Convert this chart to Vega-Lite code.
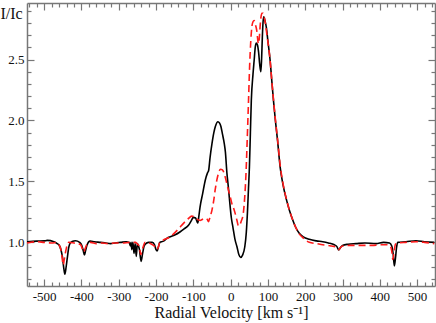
{
  "$schema": "https://vega.github.io/schema/vega-lite/v6.json",
  "width": 408,
  "height": 283,
  "autosize": "none",
  "padding": {"left": 27, "top": 3, "right": 1, "bottom": 37},
  "background": "white",
  "config": {
    "view": {"stroke": null},
    "font": "Liberation Serif",
    "axis": {"labelFont": "Liberation Serif", "titleFont": "Liberation Serif", "labelFontSize": 13, "labelColor": "#111111", "grid": false, "domainColor": "#777777", "domainWidth": 1.5, "tickColor": "#777777", "tickWidth": 1.2}
  },
  "datasets": {
    "obs": [
      {"v":-546,"I":1.005},{"v":-520,"I":1.01},{"v":-500,"I":1.012},{"v":-492,"I":1.016},{"v":-474,"I":1.005},{"v":-465,"I":0.99},{"v":-460,"I":0.978},{"v":-455,"I":0.94},{"v":-451,"I":0.88},{"v":-447,"I":0.78},{"v":-444.5,"I":0.738},{"v":-441,"I":0.8},{"v":-438,"I":0.87},{"v":-434,"I":0.96},{"v":-431,"I":0.99},{"v":-425,"I":1.008},{"v":-416,"I":1.013},{"v":-405,"I":1.0},{"v":-399,"I":0.975},{"v":-395,"I":0.93},{"v":-392,"I":0.896},{"v":-389,"I":0.93},{"v":-385,"I":0.978},{"v":-377,"I":1.01},{"v":-365,"I":1.005},{"v":-349,"I":1.0},{"v":-335,"I":0.995},{"v":-322,"I":0.99},{"v":-310,"I":0.995},{"v":-295,"I":1.0},{"v":-280,"I":1.005},{"v":-272,"I":1.0},{"v":-269,"I":0.97},{"v":-267,"I":1.0},{"v":-265,"I":0.94},{"v":-262,"I":1.0},{"v":-259,"I":0.91},{"v":-256,"I":0.99},{"v":-253,"I":0.885},{"v":-250,"I":0.99},{"v":-247,"I":0.97},{"v":-244.5,"I":0.94},{"v":-240,"I":0.844},{"v":-236,"I":0.91},{"v":-232,"I":0.97},{"v":-229,"I":0.985},{"v":-220,"I":1.0},{"v":-210,"I":1.0},{"v":-204,"I":0.98},{"v":-200,"I":0.94},{"v":-197,"I":0.93},{"v":-193,"I":0.97},{"v":-190,"I":1.0},{"v":-180,"I":1.01},{"v":-170,"I":1.035},{"v":-162,"I":1.046},{"v":-150,"I":1.06},{"v":-135,"I":1.087},{"v":-125,"I":1.11},{"v":-113,"I":1.14},{"v":-105,"I":1.18},{"v":-100,"I":1.205},{"v":-94,"I":1.2},{"v":-90,"I":1.17},{"v":-88,"I":1.16},{"v":-85,"I":1.22},{"v":-82,"I":1.29},{"v":-75,"I":1.4},{"v":-68,"I":1.51},{"v":-62,"I":1.57},{"v":-59,"I":1.59},{"v":-55,"I":1.7},{"v":-50,"I":1.81},{"v":-45,"I":1.9},{"v":-41,"I":1.95},{"v":-34,"I":1.99},{"v":-30,"I":1.98},{"v":-26,"I":1.95},{"v":-22,"I":1.89},{"v":-17,"I":1.81},{"v":-14,"I":1.74},{"v":-10,"I":1.57},{"v":-6,"I":1.45},{"v":-3,"I":1.35},{"v":2,"I":1.2},{"v":6,"I":1.128},{"v":12,"I":1.02},{"v":17,"I":0.964},{"v":22,"I":0.9},{"v":27,"I":0.877},{"v":32,"I":0.895},{"v":38,"I":0.964},{"v":42,"I":1.08},{"v":45,"I":1.24},{"v":48,"I":1.45},{"v":50.4,"I":1.62},{"v":53,"I":1.9},{"v":55.5,"I":2.166},{"v":60,"I":2.38},{"v":63,"I":2.49},{"v":66,"I":2.6},{"v":69,"I":2.636},{"v":72,"I":2.62},{"v":75,"I":2.56},{"v":78,"I":2.46},{"v":81,"I":2.4},{"v":83,"I":2.5},{"v":85,"I":2.68},{"v":87,"I":2.81},{"v":89,"I":2.85},{"v":92,"I":2.82},{"v":96,"I":2.76},{"v":100,"I":2.65},{"v":106,"I":2.49},{"v":110,"I":2.34},{"v":114.8,"I":2.166},{"v":120,"I":2.0},{"v":126,"I":1.83},{"v":132.7,"I":1.62},{"v":140,"I":1.48},{"v":150,"I":1.347},{"v":158,"I":1.26},{"v":167,"I":1.18},{"v":175,"I":1.12},{"v":184,"I":1.074},{"v":195,"I":1.045},{"v":211,"I":1.025},{"v":230,"I":1.012},{"v":247,"I":1.005},{"v":262,"I":0.995},{"v":278,"I":0.98},{"v":285,"I":0.965},{"v":290,"I":0.937},{"v":295,"I":0.96},{"v":300,"I":0.975},{"v":315,"I":0.985},{"v":336,"I":0.99},{"v":360,"I":0.995},{"v":390,"I":0.99},{"v":410,"I":1.0},{"v":426,"I":0.995},{"v":432,"I":0.97},{"v":436,"I":0.9},{"v":439,"I":0.806},{"v":442,"I":0.87},{"v":445,"I":0.96},{"v":448,"I":1.0},{"v":470,"I":1.005},{"v":497,"I":1.013},{"v":520,"I":1.005},{"v":546,"I":1.0}
    ],
    "model": [
      {"v":-546,"I":0.995},{"v":-520,"I":1.005},{"v":-500,"I":1.0},{"v":-480,"I":0.995},{"v":-465,"I":1.0},{"v":-460,"I":0.98},{"v":-456,"I":0.95},{"v":-452,"I":0.88},{"v":-449,"I":0.814},{"v":-446,"I":0.86},{"v":-442,"I":0.93},{"v":-438,"I":0.98},{"v":-434,"I":1.0},{"v":-420,"I":0.995},{"v":-410,"I":0.99},{"v":-402,"I":0.98},{"v":-398,"I":0.95},{"v":-394,"I":0.92},{"v":-390,"I":0.95},{"v":-385,"I":0.985},{"v":-375,"I":1.0},{"v":-360,"I":0.99},{"v":-345,"I":0.995},{"v":-330,"I":0.99},{"v":-310,"I":0.995},{"v":-290,"I":0.995},{"v":-270,"I":1.0},{"v":-255,"I":1.0},{"v":-248,"I":0.98},{"v":-245,"I":0.97},{"v":-241,"I":0.9},{"v":-238,"I":0.93},{"v":-235,"I":0.96},{"v":-229,"I":1.0},{"v":-215,"I":0.99},{"v":-205,"I":0.97},{"v":-198,"I":0.94},{"v":-194,"I":0.96},{"v":-190,"I":1.0},{"v":-180,"I":1.02},{"v":-165,"I":1.04},{"v":-153,"I":1.07},{"v":-140,"I":1.11},{"v":-126.5,"I":1.156},{"v":-115,"I":1.19},{"v":-104,"I":1.215},{"v":-97,"I":1.21},{"v":-90,"I":1.19},{"v":-82,"I":1.18},{"v":-75,"I":1.19},{"v":-68,"I":1.197},{"v":-62,"I":1.185},{"v":-59.5,"I":1.17},{"v":-55,"I":1.21},{"v":-50,"I":1.265},{"v":-45,"I":1.35},{"v":-41.5,"I":1.43},{"v":-37,"I":1.51},{"v":-32.7,"I":1.566},{"v":-27,"I":1.6},{"v":-22,"I":1.595},{"v":-14.7,"I":1.538},{"v":-10,"I":1.48},{"v":-5.9,"I":1.43},{"v":0,"I":1.36},{"v":3.2,"I":1.32},{"v":8,"I":1.28},{"v":12,"I":1.24},{"v":17,"I":1.18},{"v":21,"I":1.135},{"v":24,"I":1.14},{"v":28,"I":1.17},{"v":34,"I":1.24},{"v":38,"I":1.38},{"v":41,"I":1.55},{"v":44,"I":1.8},{"v":48,"I":2.166},{"v":51,"I":2.45},{"v":54,"I":2.65},{"v":57,"I":2.77},{"v":60,"I":2.81},{"v":63,"I":2.82},{"v":66,"I":2.79},{"v":70,"I":2.74},{"v":74.5,"I":2.63},{"v":77,"I":2.68},{"v":79,"I":2.77},{"v":81,"I":2.84},{"v":84,"I":2.88},{"v":87,"I":2.88},{"v":90,"I":2.85},{"v":94,"I":2.78},{"v":97,"I":2.71},{"v":102,"I":2.6},{"v":106,"I":2.49},{"v":110,"I":2.34},{"v":115,"I":2.17},{"v":120,"I":2.01},{"v":126,"I":1.84},{"v":133,"I":1.63},{"v":140,"I":1.49},{"v":150,"I":1.35},{"v":158,"I":1.26},{"v":167,"I":1.18},{"v":175,"I":1.12},{"v":184,"I":1.07},{"v":195,"I":1.035},{"v":211,"I":1.0},{"v":230,"I":0.99},{"v":247,"I":0.98},{"v":262,"I":0.975},{"v":270,"I":0.97},{"v":280,"I":0.965},{"v":286,"I":0.955},{"v":290,"I":0.94},{"v":294,"I":0.955},{"v":300,"I":0.97},{"v":320,"I":0.975},{"v":350,"I":0.975},{"v":380,"I":0.975},{"v":400,"I":0.98},{"v":420,"I":0.98},{"v":428,"I":0.97},{"v":432,"I":0.93},{"v":435,"I":0.86},{"v":438,"I":0.92},{"v":442,"I":0.985},{"v":448,"I":0.995},{"v":470,"I":1.0},{"v":497,"I":1.005},{"v":520,"I":1.0},{"v":546,"I":0.99}
    ]
  },
  "layer": [
    {
      "data": {"name": "obs"},
      "mark": {"type": "line", "color": "#000000", "strokeWidth": 1.6, "interpolate": "monotone"},
      "encoding": {
        "x": {
          "field": "v", "type": "quantitative",
          "scale": {"domain": [-546, 548], "nice": false, "zero": false},
          "axis": {
            "orient": "bottom",
            "values": [-500,-400,-300,-200,-100,0,100,200,300,400,500],
            "labelExpr": "'' + datum.value",
            "tickSize": -7,
            "labelFont": "Liberation Serif", "labelFontSize": 13, "labelColor": "#111111",
            "labelPadding": 11, "labelOverlap": false, "labelFlush": false,
            "title": "Radial Velocity [km s⁻¹]",
            "titleFont": "Liberation Serif", "titleFontSize": 16, "titleFontWeight": "normal", "titleColor": "#111111",
            "titleBaseline": "alphabetic", "titleY": 31
          }
        },
        "y": {
          "field": "I", "type": "quantitative",
          "scale": {"domain": [0.642, 2.964], "nice": false, "zero": false},
          "axis": {
            "orient": "left",
            "values": [1.0, 1.5, 2.0, 2.5],
            "format": ".1f",
            "tickSize": -7,
            "labelFont": "Liberation Serif", "labelFontSize": 13, "labelColor": "#111111",
            "labelPadding": 10, "labelOverlap": false, "labelFlush": false,
            "title": "I/Ic",
            "titleFont": "Liberation Serif", "titleFontSize": 16, "titleFontWeight": "normal", "titleColor": "#111111",
            "titleAngle": 0, "titleAlign": "left", "titleBaseline": "alphabetic",
            "titleX": -27, "titleY": 15
          }
        }
      }
    },
    {
      "data": {"name": "model"},
      "mark": {"type": "line", "color": "#ff1a1a", "strokeWidth": 1.6, "strokeDash": [7, 4], "interpolate": "monotone"},
      "encoding": {
        "x": {
          "field": "v", "type": "quantitative",
          "scale": {"domain": [-546, 548], "nice": false, "zero": false},
          "axis": {"orient": "top", "values": [-500,-400,-300,-200,-100,0,100,200,300,400,500], "labels": false, "tickSize": -7, "title": null}
        },
        "y": {
          "field": "I", "type": "quantitative",
          "scale": {"domain": [0.642, 2.964], "nice": false, "zero": false},
          "axis": {"orient": "right", "values": [1.0, 1.5, 2.0, 2.5], "labels": false, "tickSize": -7, "title": null}
        }
      }
    },
    {
      "data": {"name": "obs"},
      "mark": {"type": "line", "opacity": 0},
      "encoding": {
        "x": {
          "field": "v", "type": "quantitative",
          "scale": {"domain": [-546, 548], "nice": false, "zero": false},
          "axis": {"orient": "bottom", "values": [-540,-520,-480,-460,-440,-420,-380,-360,-340,-320,-280,-260,-240,-220,-180,-160,-140,-120,-80,-60,-40,-20,20,40,60,80,120,140,160,180,220,240,260,280,320,340,360,380,420,440,460,480,520,540], "labels": false, "domain": false, "tickSize": -4, "title": null}
        },
        "y": {
          "field": "I", "type": "quantitative",
          "scale": {"domain": [0.642, 2.964], "nice": false, "zero": false},
          "axis": {"orient": "left", "values": [0.7,0.8,0.9,1.1,1.2,1.3,1.4,1.6,1.7,1.8,1.9,2.1,2.2,2.3,2.4,2.6,2.7,2.8,2.9], "labels": false, "domain": false, "tickSize": -4, "title": null}
        }
      }
    },
    {
      "data": {"name": "obs"},
      "mark": {"type": "line", "opacity": 0},
      "encoding": {
        "x": {
          "field": "v", "type": "quantitative",
          "scale": {"domain": [-546, 548], "nice": false, "zero": false},
          "axis": {"orient": "top", "values": [-540,-520,-480,-460,-440,-420,-380,-360,-340,-320,-280,-260,-240,-220,-180,-160,-140,-120,-80,-60,-40,-20,20,40,60,80,120,140,160,180,220,240,260,280,320,340,360,380,420,440,460,480,520,540], "labels": false, "domain": false, "tickSize": -4, "title": null}
        },
        "y": {
          "field": "I", "type": "quantitative",
          "scale": {"domain": [0.642, 2.964], "nice": false, "zero": false},
          "axis": {"orient": "right", "values": [0.7,0.8,0.9,1.1,1.2,1.3,1.4,1.6,1.7,1.8,1.9,2.1,2.2,2.3,2.4,2.6,2.7,2.8,2.9], "labels": false, "domain": false, "tickSize": -4, "title": null}
        }
      }
    }
  ],
  "resolve": {"axis": {"x": "independent", "y": "independent"}}
}
